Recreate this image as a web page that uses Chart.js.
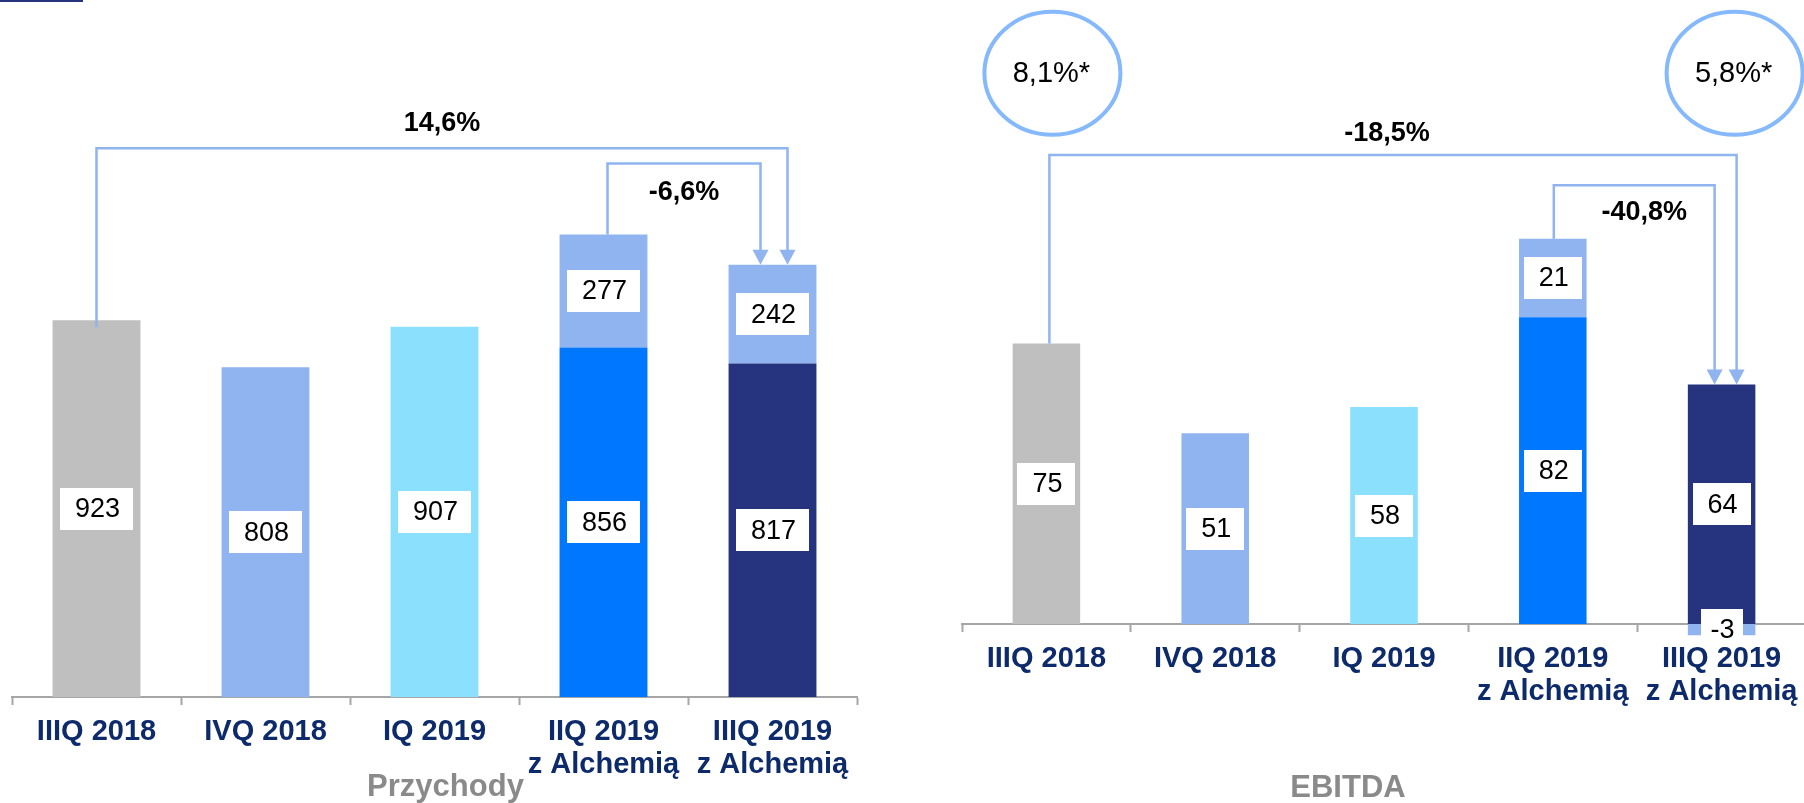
<!DOCTYPE html>
<html><head><meta charset="utf-8">
<script src="https://cdn.jsdelivr.net/npm/chart.js@4.4.0/dist/chart.umd.min.js"></script>
<style>
html,body{margin:0;padding:0;background:#fff;overflow:hidden;width:1804px;height:803px;position:relative;}
#c1{position:absolute;left:0;top:0;}
#c2{position:absolute;left:880px;top:0;}
</style></head><body>
<canvas id="c1" width="880" height="803"></canvas>
<canvas id="c2" width="930" height="803"></canvas>
<script>
// ---- data ----
const categories = ["IIIQ 2018", "IVQ 2018", "IQ 2019", ["IIQ 2019", "z Alchemią"], ["IIIQ 2019", "z Alchemią"]];
const revenueBase = [923, 808, 907, 856, 817];
const revenueAlchemia = [null, null, null, 277, 242];
const ebitdaBase = [75, 51, 58, 82, 64];
const ebitdaAlchemia = [null, null, null, 21, -3];
const revenueChanges = ["14,6%", "-6,6%"];
const ebitdaChanges = ["-18,5%", "-40,8%"];
const ebitdaMargins = ["8,1%*", "5,8%*"];
const panelTitles = ["Przychody", "EBITDA"];

// ---- styles ----
const FONT = "'Liberation Sans', Arial, Helvetica, sans-serif";
const baseColors = ['#bfbfbf', '#8fb4f0', '#8ae0fd', '#0077ff', '#26347f'];
const alchemiaColor = '#8fb4f0';
const bracketColor = '#8fb4f0';
const circleColor = '#86b9fb';
const axisColor = '#a6a6a6';
const labelColor = '#0d2a6b';

const valueLabels = {
  id: 'valueLabels',
  afterDatasetsDraw(chart) {
    const ctx = chart.ctx;
    ctx.save();
    ctx.font = `27px ${FONT}`;
    ctx.textAlign = 'center';
    ctx.textBaseline = 'middle';
    chart.data.datasets.forEach((ds, di) => {
      const meta = chart.getDatasetMeta(di);
      meta.data.forEach((el, i) => {
        const v = ds.data[i];
        if (v === null || v === undefined) return;
        const cx = el.x;
        let cy = (el.y + el.base) / 2;
        const t = String(v);
        const neg = v < 0;
        const w = Math.round(ctx.measureText(t).width + (neg ? 18 : 28));
        const h = neg ? 36 : 42;
        ctx.fillStyle = '#ffffff';
        ctx.fillRect(Math.round(cx - w / 2), Math.round(cy - h / 2 - (neg ? 3 : 0)), w, h);
        ctx.fillStyle = '#000000';
        ctx.fillText(t, cx + 1, cy + 1);
      });
    });
    ctx.restore();
  }
};

function barTop(chart, i) {
  let t = Infinity;
  chart.data.datasets.forEach((ds, di) => {
    const v = ds.data[i];
    if (v === null || v === undefined) return;
    const el = chart.getDatasetMeta(di).data[i];
    t = Math.min(t, el.y, el.base);
  });
  return t;
}

function bracket(ctx, x0, y0, yl, x1, y1) {
  ctx.beginPath();
  ctx.moveTo(x0, y0);
  ctx.lineTo(x0, yl);
  ctx.lineTo(x1, yl);
  ctx.lineTo(x1, y1 - 13);
  ctx.stroke();
  ctx.beginPath();
  ctx.moveTo(x1 - 8, y1 - 15);
  ctx.lineTo(x1 + 8, y1 - 15);
  ctx.lineTo(x1, y1);
  ctx.closePath();
  ctx.fill();
}

const revenueDecor = {
  id: 'revenueDecor',
  afterDraw(chart) {
    const ctx = chart.ctx, ys = chart.scales.y, ca = chart.chartArea;
    const m = chart.getDatasetMeta(0).data;
    const cx = i => m[i].x;
    ctx.save();
    ctx.strokeStyle = bracketColor; ctx.fillStyle = bracketColor; ctx.lineWidth = 2.5;
    bracket(ctx, cx(0), barTop(chart, 0) + 7, ys.getPixelForValue(1344), cx(4) + 15, barTop(chart, 4));
    bracket(ctx, cx(3) + 4, barTop(chart, 3), ys.getPixelForValue(1307), cx(4) - 12, barTop(chart, 4));
    ctx.fillStyle = '#000';
    ctx.font = `bold 27px ${FONT}`;
    ctx.textAlign = 'center'; ctx.textBaseline = 'middle';
    ctx.fillText(revenueChanges[0], (cx(0) + cx(4) + 15) / 2, ys.getPixelForValue(1405));
    ctx.fillText(revenueChanges[1], (cx(3) + cx(4)) / 2 - 4, ys.getPixelForValue(1236));
    ctx.fillStyle = '#8a8a8a';
    ctx.font = `bold 31px ${FONT}`;
    ctx.textBaseline = 'alphabetic';
    ctx.fillText(panelTitles[0], (ca.left + ca.right) / 2 + 11, 796);
    ctx.fillStyle = '#26347f';
    ctx.fillRect(0, 0, 83, 2);
    ctx.restore();
  }
};

const ebitdaDecor = {
  id: 'ebitdaDecor',
  afterDraw(chart) {
    const ctx = chart.ctx, ys = chart.scales.y, ca = chart.chartArea;
    const m = chart.getDatasetMeta(0).data;
    const cx = i => m[i].x;
    ctx.save();
    ctx.strokeStyle = bracketColor; ctx.fillStyle = bracketColor; ctx.lineWidth = 2.5;
    bracket(ctx, cx(0) + 3, barTop(chart, 0), ys.getPixelForValue(125.4), cx(4) + 15, barTop(chart, 4));
    bracket(ctx, cx(3) + 1, barTop(chart, 3), ys.getPixelForValue(117.3), cx(4) - 7, barTop(chart, 4));
    ctx.fillStyle = '#000';
    ctx.font = `bold 27px ${FONT}`;
    ctx.textAlign = 'center'; ctx.textBaseline = 'middle';
    ctx.fillText(ebitdaChanges[0], (cx(0) + cx(4) + 18) / 2 - 6, ys.getPixelForValue(131.2));
    ctx.fillText(ebitdaChanges[1], (cx(3) + cx(4) - 6) / 2 + 10, ys.getPixelForValue(109.9));
    // margin circles
    const cyC = ys.getPixelForValue(147.2);
    const circ = [cx(0) + 6, cx(4) + 13];
    ctx.strokeStyle = circleColor; ctx.lineWidth = 4;
    ctx.font = `29px ${FONT}`;
    circ.forEach((x, k) => {
      ctx.beginPath();
      ctx.ellipse(x, cyC, 68, 61.5, 0, 0, Math.PI * 2);
      ctx.stroke();
      ctx.fillStyle = '#000';
      ctx.fillText(ebitdaMargins[k], x - 1, cyC + 1);
    });
    ctx.fillStyle = '#8a8a8a';
    ctx.font = `bold 31px ${FONT}`;
    ctx.textBaseline = 'alphabetic';
    ctx.fillText(panelTitles[1], (ca.left + ca.right) / 2 - 36, 797);
    ctx.restore();
  }
};

function makeOptions(max, axisHeight, padL, padR, barPct) {
  return {
    responsive: false,
    animation: false,
    layout: { padding: { left: padL, right: padR, top: 3, bottom: 0 } },
    datasets: { bar: { barPercentage: barPct, categoryPercentage: 1, clip: false } },
    plugins: { legend: { display: false }, tooltip: { enabled: false }, title: { display: false } },
    scales: {
      x: {
        stacked: true,
        offset: true,
        grid: { display: true, offset: true, drawOnChartArea: false, drawTicks: true, tickLength: 8, tickWidth: 2, tickColor: axisColor },
        border: { display: true, color: axisColor, width: 2 },
        ticks: { color: labelColor, font: { family: FONT, size: 29, weight: 'bold', lineHeight: 1.14 }, padding: 10, autoSkip: false, maxRotation: 0, minRotation: 0 },
        afterFit(s) { s.height = axisHeight; }
      },
      y: { stacked: true, display: false, min: 0, max: max }
    }
  };
}

new Chart(document.getElementById('c1'), {
  type: 'bar',
  data: {
    labels: categories,
    datasets: [
      { label: 'Przychody', data: revenueBase, backgroundColor: baseColors, borderWidth: 0, stack: 's' },
      { label: 'Alchemia', data: revenueAlchemia, backgroundColor: alchemiaColor, borderWidth: 0, stack: 's' }
    ]
  },
  options: makeOptions(1700, 106, 12, 23, 0.52),
  plugins: [valueLabels, revenueDecor]
});

new Chart(document.getElementById('c2'), {
  type: 'bar',
  data: {
    labels: categories,
    datasets: [
      { label: 'EBITDA', data: ebitdaBase, backgroundColor: baseColors, borderWidth: 0, stack: 's' },
      { label: 'Alchemia', data: ebitdaAlchemia, backgroundColor: alchemiaColor, borderWidth: 0, stack: 's' }
    ]
  },
  options: makeOptions(166, 179, 82, 4, 0.40),
  plugins: [valueLabels, ebitdaDecor]
});
</script>
</body></html>
